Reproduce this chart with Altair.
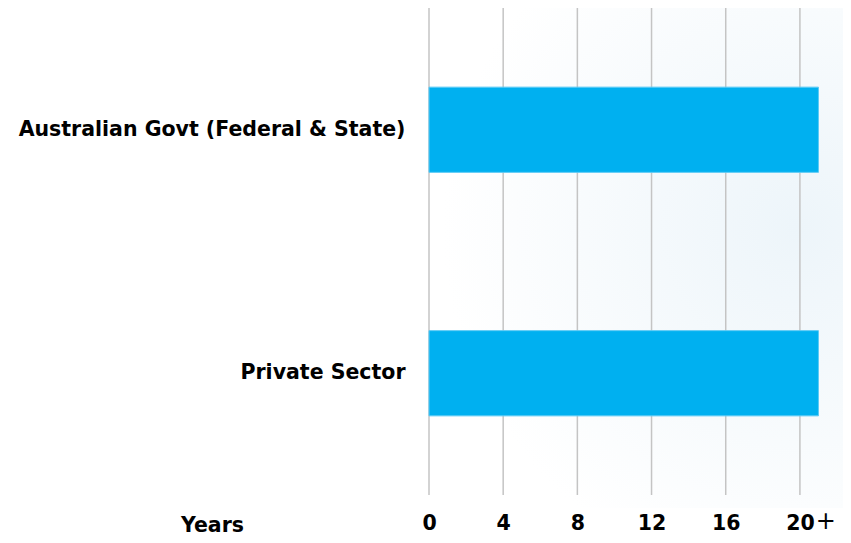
import altair as alt
import pandas as pd

categories = ["Australian Govt (Federal & State)", "Private Sector"]
years = [21, 21]
tick_values = [0, 4, 8, 12, 16, 20]

df = pd.DataFrame({"sector": categories, "years": years})
grid_df = pd.DataFrame({"v": tick_values})

FONT = "DejaVu Sans"
FS = 20.5

xscale = alt.Scale(domain=[0, 22], nice=False)

bg = alt.Chart(pd.DataFrame({"a": [0]})).mark_rect(
    fill=alt.RadialGradient(
        gradient="radial", x1=0.82, y1=0.45, x2=0.82, y2=0.45, r1=0, r2=0.7,
        stops=[alt.GradientStop(color="#edf5fa", offset=0),
               alt.GradientStop(color="#ffffff", offset=1)]
    )
).encode(x=alt.value(0), x2=alt.value(414), y=alt.value(-8), y2=alt.value(500))

grid = alt.Chart(grid_df).mark_rule(color="#c4c4c4", strokeWidth=1.5).encode(
    x=alt.X("v:Q", scale=xscale),
    y=alt.value(0), y2=alt.value(487)
)

bars = alt.Chart(df).mark_bar(color="#00B0F0", stroke="#5ccaf5", strokeWidth=1).encode(
    x=alt.X("years:Q", scale=xscale,
            axis=alt.Axis(values=tick_values, grid=False, zindex=1, labelFlush=False,
                          domain=False, ticks=False, labelFontSize=FS, labelFontWeight="bold",
                          labelFont=FONT, labelColor="#000000", labelPadding=18,
                          title="Years", titleAngle=0, titleX=-217, titleY=30,
                          titleBaseline="middle", titleAlign="center", titleFont=FONT,
                          titleFontSize=FS, titleFontWeight="bold", titleColor="#000000")),
    y=alt.Y("sector:N", sort=categories,
            scale=alt.Scale(paddingInner=0.65, paddingOuter=0.325),
            axis=alt.Axis(title=None, domain=False, ticks=False, grid=False, zindex=1,
                          labelFontSize=FS, labelFontWeight="bold", labelFont=FONT,
                          labelColor="#000000", labelPadding=24, labelLimit=500))
)

plus = alt.Chart(pd.DataFrame({"x": [21.4], "t": ["+"]})).mark_text(
    fontSize=24, font=FONT, color="#000000", baseline="middle"
).encode(x=alt.X("x:Q", scale=xscale), y=alt.value(514), text="t:N")

chart = alt.layer(bg, grid, bars, plus).properties(
    width=408, height=487,
    autosize=alt.AutoSizeParams(type="none"),
    padding={"left": 421, "top": 0, "right": 6, "bottom": 40},
).configure_view(stroke=None)

chart.save("out.html", embed_options={"renderer": "svg", "actions": False})
